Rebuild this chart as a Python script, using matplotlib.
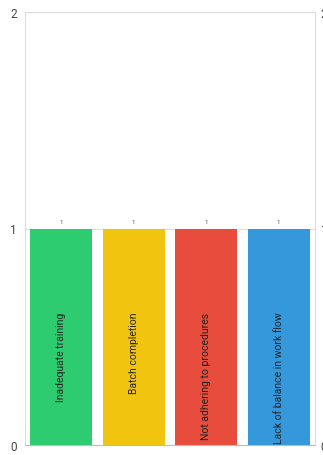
import matplotlib.pyplot as plt

# Root causes and how often each one came up
causes = ["Inadequate training", "Batch completion",
          "Not adhering to procedures", "Lack of balance in work flow"]
counts = [1, 1, 1, 1]
colors = ["#2ecc71", "#f1c40f", "#e74c3c", "#3498db"]
y_ticks = [0, 1, 2]

plt.rcParams['font.family'] = ['Roboto', 'DejaVu Sans']

fig = plt.figure(figsize=(3.23, 4.56), dpi=100)
ax = fig.add_axes([25 / 323, 10 / 456, 290 / 323, 433 / 456])

x = range(len(causes))
bars = ax.bar(x, counts, width=0.855, color=colors, zorder=2)

ax.set_xlim(-0.5, len(causes) - 0.5)
ax.set_ylim(0, 2)
ax.set_yticks(y_ticks)
ax.set_xticks([])
ax.grid(axis='y', color='#dddddd', linewidth=0.8, zorder=0)
ax.tick_params(axis='y', length=0, labelsize=8.5, labelcolor='#444444', pad=6)
for side in ['left', 'top', 'right', 'bottom']:
    ax.spines[side].set_color('#dddddd')
    ax.spines[side].set_linewidth(0.8)
ax.spines['bottom'].set_color('#bbbbbb')

# same scale repeated on the right side
ax2 = ax.twinx()
ax2.set_ylim(0, 2)
ax2.set_yticks(y_ticks)
ax2.tick_params(axis='y', length=0, labelsize=8.5, labelcolor='#444444', pad=4)
for side in ['left', 'top', 'right', 'bottom']:
    ax2.spines[side].set_visible(False)

# value above each bar, cause name written inside it
for i, (cause, n) in enumerate(zip(causes, counts)):
    ax.text(i, n + 0.02, str(n), ha='center', va='bottom',
            fontsize=4.5, color='#555555')
    ax.text(i, 0.615, cause, rotation=90, ha='center', va='top',
            fontsize=7.5, color='#222222')

fig.savefig("out.png", dpi=100)
